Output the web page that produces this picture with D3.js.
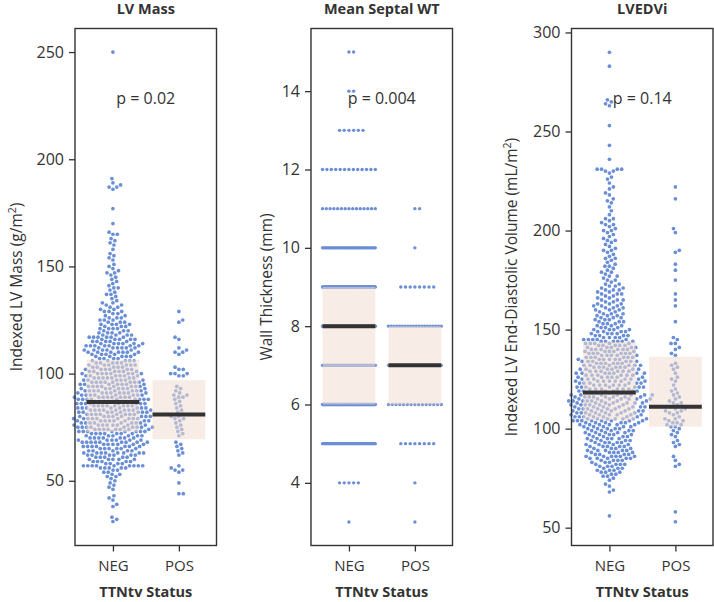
<!DOCTYPE html>
<html>
<head>
<meta charset="utf-8">
<script src="https://cdn.jsdelivr.net/npm/d3@7"></script>
<style>
    body { margin: 0; background: #fff; }
    svg text { font-family: "Open Sans", "Noto Sans", sans-serif; fill: #333; }
</style>
</head>
<body>
<svg id="chart" width="714" height="602"></svg>
<script>
const groups = ["NEG", "POS"];
const titles = ["LV Mass", "Mean Septal WT", "LVEDVi"];
const pValues = ["p = 0.02", "p = 0.004", "p = 0.14"];

// LV mass (g/m2), NEG: number of patients at each whole value, from 30 to 192
const massNegStart = 30;
const massNegCounts = [
    0, 1, 1, 1, 0, 0, 0, 0, 1, 1,      // 30
    0, 1, 1, 1, 0, 0, 1, 1, 1, 1,      // 40
    1, 1, 2, 2, 2, 2, 5, 9, 4, 5,      // 50
    5, 5, 6, 8, 5, 6, 7, 6, 9, 6,      // 60
    7, 6, 7, 8, 8, 9, 8, 8, 8, 9,      // 70
    8, 8, 8, 9, 8, 8, 8, 8, 9, 8,      // 80
    8, 8, 8, 7, 8, 7, 8, 6, 7, 6,      // 90
    8, 6, 6, 5, 6, 5, 5, 4, 5, 5,      // 100
    7, 5, 6, 7, 6, 5, 5, 6, 4, 4,      // 110
    3, 4, 3, 4, 3, 3, 3, 2, 2, 3,      // 120
    2, 2, 2, 2, 1, 1, 1, 2, 1, 1,      // 130
    2, 1, 1, 1, 1, 1, 1, 2, 1, 1,      // 140
    1, 1, 0, 1, 1, 1, 1, 0, 1, 0,      // 150
    1, 1, 1, 1, 0, 2, 1, 0, 0, 0,      // 160
    1, 0, 0, 0, 0, 0, 0, 1, 0, 0,      // 170
    0, 0, 0, 0, 0, 0, 1, 2, 1, 1,      // 180
    0, 1, 0                            // 190
];
const massNegExtra = [250];
const massPos = [44, 44, 49, 54, 55, 55, 56, 57, 62, 63, 64, 65, 66, 67, 68, 71, 72, 73, 74, 75,
    76, 77, 78, 79, 79, 80, 80, 81, 81, 81, 82, 83, 84, 85, 86, 87, 88, 89, 89, 90, 90, 91, 92,
    93, 94, 99, 99, 100, 100, 100, 102, 102, 103, 109, 110, 110, 111, 112, 116, 117, 124, 125, 129];

// Mean septal wall thickness (mm): patients per whole mm
const wtLevels = [3, 4, 5, 6, 7, 8, 9, 10, 11, 12, 13, 14, 15];
const wtNegCounts = [1, 5, 50, 110, 105, 145, 90, 45, 15, 13, 6, 2, 2];
const wtPosCounts = [1, 1, 8, 15, 20, 20, 8, 1, 2, 0, 0, 0, 0];

// LVEDVi (mL/m2), NEG: patients at each whole value, from 56 to 232
const edvNegStart = 56;
const edvNegCounts = [
    1, 0, 0, 0,                        // 56
    0, 0, 0, 0, 0, 0, 0, 0, 1, 1,      // 60
    0, 1, 1, 0, 1, 1, 2, 2, 3, 3,      // 70
    3, 3, 4, 3, 4, 5, 6, 4, 5, 5,      // 80
    4, 5, 4, 5, 4, 5, 4, 5, 5, 5,      // 90
    5, 5, 6, 6, 8, 7, 7, 7, 7, 7,      // 100
    7, 7, 7, 7, 8, 7, 8, 7, 6, 6,      // 110
    6, 7, 6, 6, 7, 6, 6, 6, 7, 6,      // 120
    6, 6, 6, 6, 6, 6, 6, 5, 6, 5,      // 130
    6, 5, 5, 5, 6, 5, 4, 4, 4, 4,      // 140
    4, 3, 3, 3, 3, 3, 3, 3, 3, 2,      // 150
    3, 3, 3, 3, 2, 3, 2, 2, 3, 2,      // 160
    3, 2, 2, 2, 1, 2, 1, 2, 1, 2,      // 170
    1, 1, 2, 1, 1, 1, 2, 1, 1, 1,      // 180
    2, 1, 1, 1, 1, 2, 1, 1, 1, 1,      // 190
    2, 1, 1, 2, 1, 1, 2, 0, 1, 0,      // 200
    1, 0, 1, 0, 1, 1, 1, 0, 1, 1,      // 210
    0, 1, 1, 0, 1, 0, 1, 1, 0, 1,      // 220
    2, 4, 0                            // 230
];
const edvNegExtra = [236, 243, 253, 263, 264, 265, 266, 283, 290];
const edvPos = [53, 58, 81, 82, 84, 86, 91, 92, 93, 94, 96, 97, 98, 99, 100, 101, 101, 102, 102,
    103, 103, 104, 104, 105, 105, 106, 107, 108, 108, 109, 109, 110, 110, 111, 112, 113, 113, 114,
    115, 116, 117, 118, 119, 120, 122, 124, 125, 126, 128, 130, 131, 132, 133, 137, 138, 140, 141,
    143, 143, 145, 146, 154, 162, 165, 168, 175, 180, 183, 189, 190, 199, 201, 216, 222];

const massBox = [[72.8, 86.8, 106.4], [69.4, 80.9, 96.9]];
const wtBox = [[6, 8, 9], [6, 7, 8]];
const edvBox = [[104.3, 118.3, 143.8], [101, 111, 136.3]];

const massTicks = [50, 100, 150, 200, 250];
const wtTicks = [4, 6, 8, 10, 12, 14];
const edvTicks = [50, 100, 150, 200, 250, 300];

const massDomain = [19.8, 261];
const wtDomain = [2.4, 15.6];
const edvDomain = [41, 302];

const plotTop = 28.5, plotBottom = 545.5, panelW = 141.5;
const dotR = 1.85, dotGap = 4.4;

function expandCounts(start, counts) {
    const out = [];
    counts.forEach((c, i) => { for (let k = 0; k < c; k++) out.push(start + i); });
    return out;
}

function expandLevels(levels, counts) {
    const out = [];
    levels.forEach((v, i) => { for (let k = 0; k < counts[i]; k++) out.push(v); });
    return out;
}

// classic beeswarm: each point goes to the free spot nearest the centre line,
// left and right taking turns when two spots are equally close
function beeswarm(values, y, cx) {
    const pts = values.map(v => ({ v, y: y(v) })).sort((a, b) => b.y - a.y);
    const placed = [];
    let side = 1;
    for (const p of pts) {
        const near = [];
        for (let j = placed.length - 1; j >= 0; j--) {
            if (Math.abs(placed[j].y - p.y) < dotGap) near.push(placed[j]);
            else break;
        }
        const cands = [0];
        for (const q of near) {
            const dx = Math.sqrt(dotGap * dotGap - (q.y - p.y) ** 2);
            cands.push(q.off + dx, q.off - dx);
        }
        cands.sort((a, b) => {
            const d = Math.abs(a) - Math.abs(b);
            return Math.abs(d) > 0.3 ? d : (b - a) * side;
        });
        p.off = cands.find(c => near.every(q => (q.off - c) ** 2 + (q.y - p.y) ** 2 >= dotGap * dotGap - 0.01));
        if (p.off !== 0) side = -Math.sign(p.off);
        placed.push(p);
    }
    return pts.map(p => ({ x: cx + p.off, y: p.y }));
}

// discrete values: one row per level, squeezed into the box width when full
function rowSwarm(values, y, cx, half) {
    const out = [];
    const step = 4.7;
    d3.groups(values, v => v).forEach(([v, list]) => {
        const n = list.length;
        if ((n - 1) / 2 * step <= half) {
            for (let i = 0; i < n; i++) {
                const k = Math.ceil(i / 2) * (i % 2 ? 1 : -1);
                out.push({ x: cx + k * step, y: y(v) });
            }
        } else {
            for (let i = 0; i < n; i++) out.push({ x: cx - half + i * 2 * half / (n - 1), y: y(v) });
        }
    });
    return out;
}

const panels = [
    {
        left: 75, domain: massDomain, ticks: massTicks, box: massBox, labelX: 21.5,
        label: ["Indexed LV Mass (g/m", "2", ")"],
        data: [expandCounts(massNegStart, massNegCounts).concat(massNegExtra), massPos], rows: false
    },
    {
        left: 311, domain: wtDomain, ticks: wtTicks, box: wtBox, labelX: 271.5,
        label: ["Wall Thickness (mm)"],
        data: [expandLevels(wtLevels, wtNegCounts), expandLevels(wtLevels, wtPosCounts)], rows: true
    },
    {
        left: 571.5, domain: edvDomain, ticks: edvTicks, box: edvBox, labelX: 517,
        label: ["Indexed LV End-Diastolic Volume (mL/m", "2", ")"],
        data: [expandCounts(edvNegStart, edvNegCounts).concat(edvNegExtra), edvPos], rows: false
    }
];

const svg = d3.select("#chart");

panels.forEach((p, pi) => {
    const g = svg.append("g").attr("transform", `translate(${p.left},0)`);
    const x = d3.scaleLinear().domain([-0.575, 1.57]).range([0, panelW]);
    const y = d3.scaleLinear().domain(p.domain).range([plotBottom, plotTop]);
    const half = x(0.4) - x(0);

    p.data.forEach((vals, gi) => {
        const pts = p.rows ? rowSwarm(vals, y, x(gi), half) : beeswarm(vals, y, x(gi));
        g.append("g")
            .selectAll("circle")
            .data(pts)
            .join("circle")
            .attr("cx", d => d.x)
            .attr("cy", d => d.y)
            .attr("r", p.rows ? 1.7 : dotR)
            .attr("fill", "#6a8fd6");
    });

    p.box.forEach((b, gi) => {
        g.append("rect")
            .attr("x", x(gi - 0.4))
            .attr("width", x(gi + 0.4) - x(gi - 0.4))
            .attr("y", y(b[2]))
            .attr("height", y(b[0]) - y(b[2]))
            .attr("fill", "rgb(241,220,209)")
            .attr("fill-opacity", 0.55);
        g.append("line")
            .attr("x1", x(gi - 0.4))
            .attr("x2", x(gi + 0.4))
            .attr("y1", y(b[1]))
            .attr("y2", y(b[1]))
            .attr("stroke", "#333")
            .attr("stroke-width", 4);
    });

    const yAxis = g.append("g")
        .call(d3.axisLeft(y).tickValues(p.ticks).tickSize(6).tickPadding(5));
    const xAxis = g.append("g")
        .attr("transform", `translate(0,${plotBottom})`)
        .call(d3.axisBottom(x).tickValues([0, 1]).tickFormat(i => groups[i]).tickSize(6).tickPadding(9));
    [yAxis, xAxis].forEach(a => {
        a.select(".domain").remove();
        a.selectAll("line").attr("stroke", "#333").attr("stroke-width", 1.3);
        a.selectAll("text").attr("fill", "#333");
    });
    yAxis.selectAll("text").attr("font-size", 16);
    xAxis.selectAll("text").attr("font-size", 15);

    g.append("rect")
        .attr("x", 0)
        .attr("y", plotTop)
        .attr("width", panelW)
        .attr("height", plotBottom - plotTop)
        .attr("fill", "none")
        .attr("stroke", "#333")
        .attr("stroke-width", 1.4);

    g.append("text")
        .attr("x", panelW / 2)
        .attr("y", 14)
        .attr("text-anchor", "middle")
        .attr("font-size", 14.5)
        .attr("font-weight", "bold")
        .text(titles[pi]);

    g.append("text")
        .attr("x", panelW / 2)
        .attr("y", 104)
        .attr("text-anchor", "middle")
        .attr("font-size", 16)
        .text(pValues[pi]);

    g.append("text")
        .attr("x", panelW / 2)
        .attr("y", 597)
        .attr("text-anchor", "middle")
        .attr("font-size", 14.5)
        .attr("font-weight", "bold")
        .text("TTNtv Status");

    const lab = svg.append("text")
        .attr("transform", `translate(${p.labelX},${(plotTop + plotBottom) / 2}) rotate(-90)`)
        .attr("text-anchor", "middle")
        .attr("font-size", 15.5);
    lab.append("tspan").text(p.label[0]);
    if (p.label.length > 1) {
        lab.append("tspan").attr("dy", -6).attr("font-size", 10.5).text(p.label[1]);
        lab.append("tspan").attr("dy", 6).text(p.label[2]);
    }
});
</script>
</body>
</html>
